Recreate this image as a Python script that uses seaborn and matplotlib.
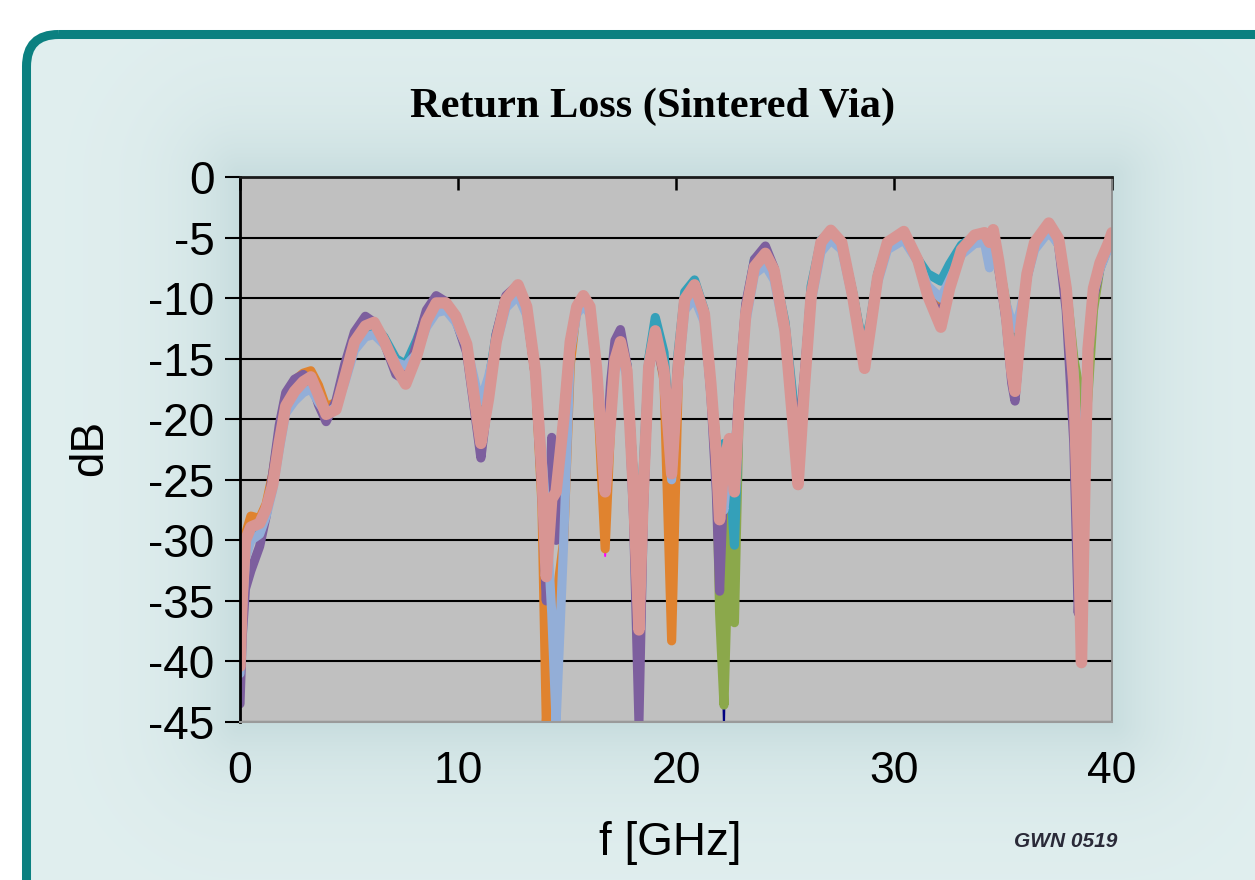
import numpy as np
import matplotlib
matplotlib.use("Agg")
import matplotlib.pyplot as plt
import seaborn as sns
from matplotlib.patches import FancyBboxPatch

# Frequency points (GHz) shared by all measured traces
freq_ghz = [
    0.0, 0.1, 0.25, 0.5, 0.9, 1.2, 1.5, 1.8, 2.1, 2.5,
    2.9, 3.25, 3.6, 3.95, 4.4, 4.8, 5.25, 5.75, 6.15, 6.6,
    7.15, 7.6, 8.1, 8.55, 9.0, 9.45, 9.9, 10.4, 10.85, 11.05,
    11.4, 11.75, 12.2, 12.75, 13.15, 13.55, 13.85, 14.05, 14.3, 14.5,
    14.85, 15.15, 15.45, 15.75, 16.05, 16.35, 16.75, 17.0, 17.2, 17.45,
    17.75, 18.05, 18.3, 18.5, 18.75, 19.05, 19.45, 19.8, 20.1, 20.4,
    20.85, 21.3, 21.6, 21.85, 22.0, 22.2, 22.45, 22.68, 22.9, 23.2,
    23.6, 24.1, 24.5, 25.0, 25.35, 25.6, 25.9, 26.2, 26.65, 27.1,
    27.6, 28.1, 28.45, 28.65, 28.9, 29.25, 29.7, 30.45, 31.1, 31.55,
    32.15, 32.55, 33.1, 33.7, 34.15, 34.38, 34.55, 34.8, 35.15, 35.4,
    35.55, 35.8, 36.1, 36.45, 37.1, 37.55, 37.9, 38.25, 38.45, 38.6,
    38.75, 38.9, 39.15, 39.45, 39.85, 40.0,
]

# Return loss (dB) of each sintered-via sample
rl_navy = [
    -40.4, -34.8, -30.0, -28.9, -28.6, -27.4, -25.4, -21.9, -18.9, -17.7,
    -16.9, -16.5, -18.0, -19.6, -19.2, -16.6, -13.6, -12.3, -12.0, -13.5,
    -15.7, -17.1, -14.8, -11.9, -10.4, -10.4, -11.5, -13.8, -19.5, -22.0,
    -18.3, -13.6, -10.1, -8.9, -10.7, -16.0, -24.5, -33.0, -26.6, -26.0,
    -20.0, -13.6, -10.7, -9.8, -10.7, -15.7, -26.0, -20.0, -15.1, -13.6,
    -16.0, -26.0, -37.4, -26.0, -15.7, -12.7, -16.0, -24.5, -15.7, -10.1,
    -8.9, -11.3, -17.1, -23.0, -30.0, -45.5, -21.6, -26.0, -18.6, -11.3,
    -7.4, -6.3, -7.7, -12.7, -20.0, -25.4, -17.1, -9.8, -5.4, -4.4,
    -5.4, -9.8, -13.6, -15.8, -12.7, -8.3, -5.4, -4.5, -6.9, -9.8,
    -12.4, -9.2, -6.0, -4.8, -4.6, -5.4, -4.35, -6.9, -11.3, -16.0,
    -17.7, -12.7, -8.0, -5.4, -3.8, -5.1, -9.2, -17.1, -28.9, -40.1,
    -26.0, -14.2, -9.2, -7.1, -5.4, -4.6,
]
rl_magenta = [
    -40.4, -34.8, -30.0, -28.9, -28.6, -27.4, -25.4, -21.9, -18.9, -17.7,
    -16.9, -16.5, -18.0, -19.6, -19.2, -16.6, -13.6, -12.3, -12.0, -13.5,
    -15.7, -17.1, -14.8, -11.9, -10.4, -10.4, -11.5, -13.8, -19.5, -22.0,
    -18.3, -13.6, -10.1, -8.9, -10.7, -16.0, -24.5, -45.0, -26.6, -26.0,
    -20.0, -13.6, -10.7, -9.8, -10.7, -15.7, -31.3, -20.0, -15.1, -13.6,
    -16.0, -26.0, -37.4, -26.0, -15.7, -12.7, -16.0, -24.5, -15.7, -10.1,
    -8.9, -11.3, -17.1, -23.0, -35.5, -23.6, -21.6, -26.0, -18.6, -11.3,
    -7.4, -6.3, -7.7, -12.7, -20.0, -25.4, -17.1, -9.8, -5.4, -4.4,
    -5.4, -9.8, -13.6, -15.8, -12.7, -8.3, -5.4, -4.5, -6.9, -9.8,
    -12.4, -9.2, -6.0, -4.8, -4.6, -5.4, -4.35, -6.9, -11.3, -16.0,
    -17.7, -12.7, -8.0, -5.4, -3.8, -5.1, -9.2, -17.1, -28.9, -40.1,
    -26.0, -14.2, -9.2, -7.1, -5.4, -4.6,
]
rl_green = [
    -39.0, -34.0, -30.5, -29.2, -28.8, -27.5, -25.0, -21.5, -18.8, -17.5,
    -17.0, -16.9, -18.2, -19.5, -18.8, -16.3, -13.4, -12.5, -12.3, -13.3,
    -15.3, -16.3, -14.3, -11.6, -10.6, -10.7, -11.8, -14.2, -19.0, -20.0,
    -17.5, -13.4, -10.3, -9.2, -11.0, -16.2, -25.0, -32.0, -25.0, -26.5,
    -19.5, -13.5, -10.9, -10.1, -11.0, -15.8, -25.0, -19.0, -14.6, -13.8,
    -15.8, -25.0, -35.0, -25.0, -15.2, -12.2, -15.5, -23.5, -15.0, -10.0,
    -9.0, -11.3, -17.2, -23.0, -36.0, -43.6, -28.0, -36.8, -19.0, -11.0,
    -7.2, -6.4, -7.8, -12.5, -18.5, -22.5, -17.0, -9.6, -5.5, -4.6,
    -5.5, -9.5, -13.0, -13.9, -12.3, -8.2, -5.5, -4.8, -6.8, -9.4,
    -10.8, -8.5, -5.8, -5.0, -4.9, -5.6, -5.2, -7.0, -10.5, -13.5,
    -14.5, -12.0, -8.0, -5.6, -4.1, -5.3, -9.0, -15.0, -17.0, -21.0,
    -21.5, -18.0, -11.0, -7.5, -5.7, -5.0,
]
rl_orange = [
    -38.0, -33.0, -29.5, -28.0, -28.2, -27.0, -24.5, -21.0, -18.0, -16.8,
    -16.2, -16.0, -17.2, -19.0, -18.6, -16.3, -13.5, -12.4, -12.2, -13.3,
    -15.3, -16.6, -14.5, -11.6, -10.3, -10.5, -11.7, -14.0, -19.8, -21.5,
    -18.0, -13.4, -10.2, -9.1, -11.0, -16.5, -27.0, -45.0, -38.0, -35.0,
    -30.0, -15.5, -10.8, -10.0, -10.9, -16.0, -30.7, -20.5, -15.0, -13.8,
    -16.0, -25.0, -34.0, -25.5, -15.8, -12.8, -16.8, -38.3, -17.0, -10.0,
    -9.0, -11.3, -17.3, -22.0, -25.0, -23.0, -22.0, -25.0, -18.5, -11.0,
    -7.2, -6.4, -7.8, -12.5, -19.5, -24.0, -17.0, -9.6, -5.4, -4.6,
    -5.5, -9.8, -13.2, -14.8, -12.5, -8.3, -5.5, -4.7, -7.0, -9.6,
    -11.0, -8.6, -5.8, -5.0, -4.8, -5.6, -5.2, -7.3, -11.5, -15.0,
    -15.5, -12.2, -8.2, -5.6, -4.0, -5.3, -9.5, -18.0, -29.0, -35.0,
    -25.0, -14.5, -9.5, -7.3, -5.6, -4.8,
]
rl_teal = [
    -40.0, -35.0, -31.0, -29.5, -29.0, -27.5, -25.0, -21.0, -18.5, -17.3,
    -16.8, -16.8, -18.5, -19.8, -18.8, -16.0, -13.3, -12.5, -12.3, -13.2,
    -15.0, -15.5, -13.5, -11.3, -10.6, -10.6, -11.8, -14.0, -19.0, -20.5,
    -17.0, -13.0, -10.0, -9.1, -11.0, -16.0, -25.0, -34.0, -23.0, -28.0,
    -20.0, -13.5, -11.0, -10.2, -11.0, -15.5, -25.0, -19.0, -14.5, -13.8,
    -15.5, -25.0, -34.0, -24.0, -15.0, -11.6, -14.5, -23.0, -14.5, -9.5,
    -8.5, -11.0, -17.0, -22.5, -25.0, -22.0, -24.0, -30.4, -19.0, -10.8,
    -6.8, -6.2, -7.6, -12.0, -18.0, -22.0, -16.5, -9.0, -5.2, -4.6,
    -5.4, -9.5, -12.8, -13.8, -12.0, -8.0, -5.4, -4.8, -6.8, -8.0,
    -8.6, -7.2, -5.6, -4.9, -4.9, -5.6, -5.2, -7.5, -11.0, -14.5,
    -15.5, -12.0, -8.0, -5.5, -4.1, -5.4, -9.5, -17.0, -27.0, -33.0,
    -24.0, -15.0, -9.5, -7.5, -5.6, -5.0,
]
rl_purple = [
    -43.5, -38.0, -34.0, -32.5, -30.5, -28.0, -24.5, -20.5, -17.8, -16.7,
    -16.3, -16.8, -18.8, -20.2, -18.5, -15.5, -12.8, -11.5, -12.0, -13.6,
    -16.3, -16.8, -13.8, -11.0, -9.8, -10.3, -11.8, -14.5, -20.5, -23.2,
    -18.0, -13.0, -9.8, -8.9, -10.9, -16.5, -26.0, -35.0, -21.5, -30.0,
    -20.5, -13.5, -11.0, -10.2, -11.0, -16.0, -24.0, -17.0, -13.5, -12.6,
    -15.5, -28.0, -45.0, -28.0, -16.0, -13.2, -16.5, -23.0, -15.0, -10.0,
    -9.2, -11.5, -18.0, -26.0, -34.2, -25.0, -22.0, -24.0, -17.0, -10.5,
    -6.8, -5.7, -7.5, -12.5, -19.0, -22.2, -16.0, -9.5, -5.3, -4.5,
    -5.6, -10.0, -13.5, -15.3, -12.7, -8.5, -5.5, -4.7, -7.0, -9.8,
    -11.5, -8.8, -6.0, -5.0, -4.8, -5.6, -5.0, -7.5, -12.0, -17.0,
    -18.5, -13.0, -8.3, -5.6, -4.0, -5.6, -11.0, -22.0, -36.0, -30.0,
    -22.0, -15.0, -10.0, -7.5, -5.6, -4.9,
]
rl_lightblue = [
    -41.0, -36.0, -31.5, -30.0, -29.5, -28.0, -25.8, -22.5, -19.5, -18.5,
    -17.8, -17.5, -18.6, -19.5, -19.0, -17.0, -14.3, -13.2, -13.0, -13.8,
    -15.3, -15.6, -14.6, -12.4, -11.2, -11.0, -12.0, -14.0, -17.5, -18.5,
    -16.5, -13.8, -10.8, -9.8, -11.4, -16.0, -23.0, -28.0, -36.0, -45.0,
    -30.0, -14.5, -11.3, -10.6, -11.3, -15.6, -24.0, -19.0, -15.0, -14.5,
    -16.5, -25.0, -34.0, -25.0, -15.5, -13.0, -16.0, -25.0, -16.5, -11.0,
    -10.0, -12.0, -17.5, -23.0, -26.0, -27.5, -22.5, -24.0, -18.5, -12.0,
    -8.0, -7.3, -8.5, -13.0, -19.5, -23.5, -17.5, -10.3, -6.2, -5.2,
    -6.0, -10.0, -13.2, -14.0, -12.5, -8.7, -6.0, -5.2, -7.0, -9.0,
    -10.0, -8.5, -6.4, -5.5, -5.4, -7.5, -5.8, -7.5, -10.5, -12.0,
    -12.5, -11.0, -8.3, -6.0, -4.5, -5.6, -9.5, -16.0, -24.0, -24.0,
    -20.0, -14.0, -9.6, -7.6, -5.8, -5.0,
]
rl_pink = [
    -40.4, -34.8, -30.0, -28.9, -28.6, -27.4, -25.4, -21.9, -18.9, -17.7,
    -16.9, -16.5, -18.0, -19.6, -19.2, -16.6, -13.6, -12.3, -12.0, -13.5,
    -15.7, -17.1, -14.8, -11.9, -10.4, -10.4, -11.5, -13.8, -19.5, -22.0,
    -18.3, -13.6, -10.1, -8.9, -10.7, -16.0, -24.5, -33.0, -26.6, -26.0,
    -20.0, -13.6, -10.7, -9.8, -10.7, -15.7, -26.0, -20.0, -15.1, -13.6,
    -16.0, -26.0, -37.4, -26.0, -15.7, -12.7, -16.0, -24.5, -15.7, -10.1,
    -8.9, -11.3, -17.1, -23.0, -28.3, -23.6, -21.6, -26.0, -18.6, -11.3,
    -7.4, -6.3, -7.7, -12.7, -20.0, -25.4, -17.1, -9.8, -5.4, -4.4,
    -5.4, -9.8, -13.6, -15.8, -12.7, -8.3, -5.4, -4.5, -6.9, -9.8,
    -12.4, -9.2, -6.0, -4.8, -4.6, -5.4, -4.35, -6.9, -11.3, -16.0,
    -17.7, -12.7, -8.0, -5.4, -3.8, -5.1, -9.2, -17.1, -28.9, -40.1,
    -26.0, -14.2, -9.2, -7.1, -5.4, -4.6,
]

x_ticks = [0, 10, 20, 30, 40]
y_ticks = [0, -5, -10, -15, -20, -25, -30, -35, -40, -45]

# (values, colour, line width in pt), drawn bottom to top
traces = [
    (rl_navy, "#000080", 1.4),
    (rl_magenta, "#FF00FF", 1.4),
    (rl_green, "#8BA84B", 6.6),
    (rl_orange, "#E0832F", 6.6),
    (rl_teal, "#34A0B9", 6.6),
    (rl_purple, "#7D5F9E", 6.6),
    (rl_lightblue, "#93AED7", 6.6),
    (rl_pink, "#D89593", 8.2),
]

sns.set_style("white")
plt.rcParams["font.family"] = ["Liberation Sans", "DejaVu Sans"]
plt.rcParams["text.color"] = "black"
plt.rcParams["xtick.color"] = "black"
plt.rcParams["ytick.color"] = "black"

W, H = 1255, 880
fig = plt.figure(figsize=(W / 100, H / 100), dpi=100)
fig.patch.set_facecolor("white")

# ---- rounded panel with a soft halo around the plot area ----
bg = fig.add_axes([0, 0, 1, 1], zorder=-10)
bg.axis("off")
panel = FancyBboxPatch((26.5, 34.5), 1400, 1000,
                       boxstyle="round,pad=0,rounding_size=32",
                       fc="#E1EFEF", ec="none", zorder=0)
bg.add_patch(panel)

yy, xx = np.mgrid[0:H, 0:W] + 0.5
dx = np.maximum(np.maximum(240 - xx, xx - 1112), 0)
dy = np.maximum(np.maximum(177 - yy, yy - 722), 0)
dist = np.hypot(dx, dy)
halo = np.zeros((H, W, 4))
halo[..., 0] = 190 / 255
halo[..., 1] = 214 / 255
halo[..., 2] = 216 / 255
halo[..., 3] = 0.75 * np.exp(-dist / 55.0)
im = bg.imshow(halo, extent=[0, W, H, 0], zorder=1, interpolation="bilinear",
               aspect="auto")
im.set_clip_path(panel)

border = FancyBboxPatch((26.5, 34.5), 1400, 1000,
                        boxstyle="round,pad=0,rounding_size=32",
                        fc="none", ec="#0B8080", lw=6.5, zorder=3)
bg.add_patch(border)
bg.set_xlim(0, W)
bg.set_ylim(H, 0)

# ---- plot area ----
ax = fig.add_axes([240 / W, 1 - 722 / H, 872 / W, 545 / H])
ax.set_facecolor("#C0C0C0")

for i, (vals, col, lw) in enumerate(traces):
    sns.lineplot(x=freq_ghz, y=vals, ax=ax, color=col, linewidth=lw,
                 sort=False, estimator=None, zorder=3 + i * 0.1,
                 solid_capstyle="round", solid_joinstyle="round")

ax.set_xlim(0, 40)
ax.set_ylim(-45, 0)
ax.set_xticks(x_ticks)
ax.set_xticklabels([str(t) for t in x_ticks])
ax.set_yticks(y_ticks)
ax.set_yticklabels([str(t) for t in y_ticks])
ax.set_xlabel("")
ax.set_ylabel("")

ax.yaxis.grid(True, color="black", linewidth=1.5, zorder=1)
ax.xaxis.grid(False)
ax.set_axisbelow(True)

ax.tick_params(axis="x", bottom=False, top=True, labelbottom=True,
               labeltop=False, direction="in", length=9, width=1.8,
               color="black", labelcolor="black", labelsize=32, pad=21)
ax.tick_params(axis="y", left=True, direction="out", length=10.5, width=1.5,
               color="black", labelcolor="black", labelsize=33, pad=8)

ax.spines["left"].set_color("black")
ax.spines["left"].set_linewidth(2.0)
ax.spines["top"].set_color("#1A1A1A")
ax.spines["top"].set_linewidth(2.0)
ax.spines["right"].set_color("#8C8C8C")
ax.spines["right"].set_linewidth(1.3)
ax.spines["bottom"].set_color("#9A9A9A")
ax.spines["bottom"].set_linewidth(1.5)
for s in ax.spines.values():
    s.set_zorder(5)

# ---- texts ----
fig.text(653 / W, 1 - 107 / H, "Return Loss (Sintered Via)",
         ha="center", va="center", fontsize=30.5, fontweight="bold",
         family=["Liberation Serif", "DejaVu Serif"], color="black")
fig.text(90 / W, 1 - 448 / H, "dB", rotation=90, ha="center", va="center",
         fontsize=33, color="black")
fig.text(670 / W, 1 - 843 / H, "f [GHz]", ha="center", va="center",
         fontsize=33, color="black")
fig.text(1066 / W, 1 - 841 / H, "GWN 0519", ha="center", va="center",
         fontsize=15, fontweight="bold", fontstyle="italic", color="#2A2A38")

fig.savefig("out.png", dpi=100, facecolor="white")
